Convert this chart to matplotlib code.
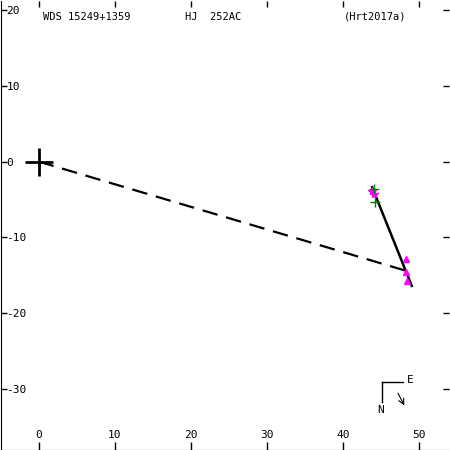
import matplotlib
matplotlib.use('Agg')
import matplotlib.pyplot as plt

# measured positions (arcsec)
obs_x = [48.3, 48.2, 48.4]
obs_y = [-12.8, -14.6, -15.7]
star_x = [43.8, 44.0]
star_y = [-3.9, -4.3]
plus_x = [44.0, 44.2]
plus_y = [-3.6, -5.4]
path_x = [43.8, 49.0]
path_y = [-3.4, -16.4]
dash_x = [0.0, 48.2]
dash_y = [0.0, -14.4]
xticks = [0, 10, 20, 30, 40, 50]
yticks = [20, 10, 0, -10, -20, -30]
title_wds = 'WDS 15249+1359'
title_name = 'HJ  252AC'
title_ref = '(Hrt2017a)'

plt.rcParams['font.family'] = 'DejaVu Sans Mono'
plt.rcParams['axes.unicode_minus'] = False
fig = plt.figure(figsize=(4.5, 4.5), dpi=100)
ax = fig.add_axes([0.002, 0.001, 0.996, 0.997])

ax.plot(dash_x, dash_y, color='black', lw=1.6, dashes=(7, 4))
ax.plot(path_x, path_y, color='black', lw=1.8)
ax.plot(obs_x, obs_y, '^', color='magenta', ms=5, mec='magenta')
ax.plot(star_x, star_y, '*', color='magenta', ms=6)
ax.plot(plus_x, plus_y, '+', color='green', ms=7, mew=1)
ax.plot([0], [0], '+', color='black', ms=20, mew=2)

ax.set_xlim(-4.95, 53.9)
ax.set_ylim(-38.0, 21.2)
ax.set_xticks(xticks)
ax.set_yticks(yticks)
ax.spines['top'].set_visible(False)
ax.spines['right'].set_visible(False)
ax.tick_params(direction='in', width=1, labelsize=8, top=True, right=True)
ax.tick_params(axis='x', which='major', bottom=True, length=6, pad=-14)
ax.tick_params(axis='y', length=4, pad=-4)
for t in ax.xaxis.get_major_ticks():
    t.tick2line.set_markersize(4)
for lab in ax.get_yticklabels():
    lab.set_horizontalalignment('left')

ax.text(0.095, 0.965, title_wds, transform=ax.transAxes, fontsize=7.5, va='center')
ax.text(0.41, 0.965, title_name, transform=ax.transAxes, fontsize=7.5, va='center')
ax.text(0.765, 0.965, title_ref, transform=ax.transAxes, fontsize=7.5, va='center')

# compass
ax.plot([0.851, 0.898], [0.151, 0.151], color='black', lw=1, transform=ax.transAxes)
ax.plot([0.851, 0.851], [0.151, 0.107], color='black', lw=1, transform=ax.transAxes)
ax.text(0.905, 0.155, 'E', transform=ax.transAxes, fontsize=8, va='center')
ax.text(0.848, 0.088, 'N', transform=ax.transAxes, fontsize=8, va='center', ha='center')
ax.annotate('', xy=(0.903, 0.093), xytext=(0.883, 0.131), xycoords='axes fraction',
            arrowprops=dict(arrowstyle='->', lw=0.8, color='black'))

fig.savefig('out.png', dpi=100)
